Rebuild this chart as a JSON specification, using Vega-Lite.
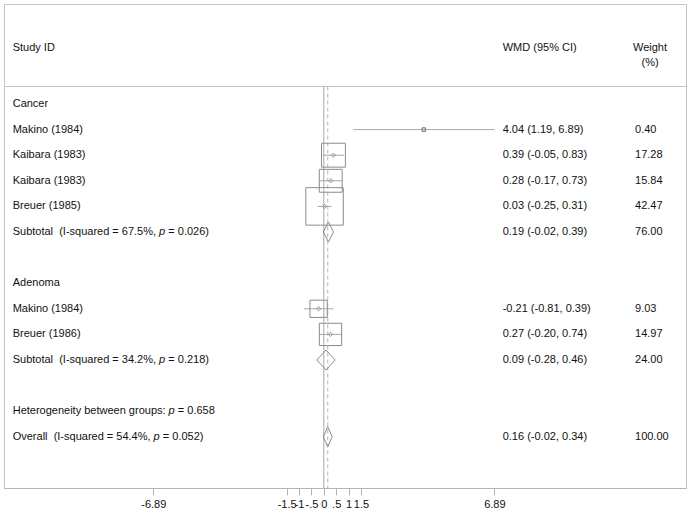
{
  "$schema": "https://vega.github.io/schema/vega-lite/v6.json",
  "width": 682,
  "height": 484,
  "autosize": {"type": "none"},
  "padding": {"left": 4, "top": 4, "right": 4, "bottom": 28},
  "background": "white",
  "config": {
    "view": {"stroke": "#c4c4c4", "strokeWidth": 1},
    "font": "Liberation Sans",
    "text": {"font": "Liberation Sans", "fontSize": 11, "color": "#111111", "baseline": "middle", "align": "left"}
  },
  "datasets": {
    "rows": [
      {"row": 1, "type": "group", "label": "Cancer"},
      {"row": 2, "type": "study", "label": "Makino (1984)", "est": 4.04, "lo": 1.19, "hi": 6.89, "weight": 0.40, "ci": "4.04 (1.19, 6.89)", "wt": "0.40"},
      {"row": 3, "type": "study", "label": "Kaibara (1983)", "est": 0.39, "lo": -0.05, "hi": 0.83, "weight": 17.28, "ci": "0.39 (-0.05, 0.83)", "wt": "17.28"},
      {"row": 4, "type": "study", "label": "Kaibara (1983)", "est": 0.28, "lo": -0.17, "hi": 0.73, "weight": 15.84, "ci": "0.28 (-0.17, 0.73)", "wt": "15.84"},
      {"row": 5, "type": "study", "label": "Breuer (1985)", "est": 0.03, "lo": -0.25, "hi": 0.31, "weight": 42.47, "ci": "0.03 (-0.25, 0.31)", "wt": "42.47"},
      {"row": 6, "type": "subtotal", "pre": "Subtotal\u00a0 (I-squared = 67.5%,", "post": "= 0.026)", "est": 0.19, "lo": -0.02, "hi": 0.39, "ci": "0.19 (-0.02, 0.39)", "wt": "76.00"},
      {"row": 8, "type": "group", "label": "Adenoma"},
      {"row": 9, "type": "study", "label": "Makino (1984)", "est": -0.21, "lo": -0.81, "hi": 0.39, "weight": 9.03, "ci": "-0.21 (-0.81, 0.39)", "wt": "9.03"},
      {"row": 10, "type": "study", "label": "Breuer (1986)", "est": 0.27, "lo": -0.20, "hi": 0.74, "weight": 14.97, "ci": "0.27 (-0.20, 0.74)", "wt": "14.97"},
      {"row": 11, "type": "subtotal", "pre": "Subtotal\u00a0 (I-squared = 34.2%,", "post": "= 0.218)", "est": 0.09, "lo": -0.28, "hi": 0.46, "ci": "0.09 (-0.28, 0.46)", "wt": "24.00"},
      {"row": 13, "type": "het", "pre": "Heterogeneity between groups:", "post": "= 0.658"},
      {"row": 14, "type": "overall", "pre": "Overall\u00a0 (I-squared = 54.4%,", "post": "= 0.052)", "est": 0.16, "lo": -0.02, "hi": 0.34, "ci": "0.16 (-0.02, 0.34)", "wt": "100.00"}
    ]
  },
  "layer": [
    {
      "data": {"values": [{}]},
      "mark": {"type": "rule", "color": "#c4c4c4", "strokeWidth": 1},
      "encoding": {
        "y": {"datum": 0.316, "type": "quantitative", "scale": {"domain": [-2.906, 16.0], "reverse": true, "nice": false, "zero": false}, "axis": null}
      }
    },
    {
      "data": {"values": [{}]},
      "mark": {"type": "rule", "color": "#a8a8a8", "strokeWidth": 1},
      "encoding": {
        "x": {"datum": 0, "type": "quantitative",
          "scale": {"domain": [-12.921, 14.634], "nice": false, "zero": false},
          "axis": {
            "values": [-6.89, -1.5, -1, -0.5, 0, 0.5, 1, 1.5, 6.89],
            "labelExpr": "replace(toString(datum.value), '0.', '.')",
            "labelOverlap": false, "labelFlush": false, "grid": false, "title": null,
            "domainColor": "#b4b4b4", "tickColor": "#b4b4b4", "tickSize": 7,
            "labelFontSize": 11, "labelColor": "#111111", "labelFont": "Liberation Sans", "labelPadding": 3
          }},
        "y": {"datum": 0.316, "type": "quantitative"},
        "y2": {"datum": 16.0}
      }
    },
    {
      "data": {"values": [{}]},
      "mark": {"type": "rule", "color": "#b4b4b4", "strokeWidth": 1, "strokeDash": [4, 3]},
      "encoding": {
        "x": {"datum": 0.16, "type": "quantitative"},
        "y": {"datum": 0.316, "type": "quantitative"},
        "y2": {"datum": 16.0}
      }
    },
    {
      "data": {"name": "rows"},
      "transform": [{"filter": "datum.type === 'study'"}],
      "mark": {"type": "rule", "color": "#a8a8a8", "strokeWidth": 1},
      "encoding": {
        "x": {"field": "lo", "type": "quantitative"},
        "x2": {"field": "hi"},
        "y": {"field": "row", "type": "quantitative"}
      }
    },
    {
      "data": {"name": "rows"},
      "transform": [{"filter": "datum.type === 'study'"}],
      "mark": {"type": "point", "shape": "square", "filled": false, "stroke": "#8c8c8c", "strokeWidth": 1, "opacity": 1},
      "encoding": {
        "x": {"field": "est", "type": "quantitative"},
        "y": {"field": "row", "type": "quantitative"},
        "size": {"field": "weight", "type": "quantitative", "scale": {"domain": [0, 42.47], "range": [0, 1406], "zero": true}, "legend": null}
      }
    },
    {
      "data": {"name": "rows"},
      "transform": [{"filter": "datum.type === 'study'"}],
      "mark": {"type": "point", "shape": "diamond", "filled": false, "stroke": "#808080", "strokeWidth": 0.8, "size": 18, "opacity": 1},
      "encoding": {
        "x": {"field": "est", "type": "quantitative"},
        "y": {"field": "row", "type": "quantitative"}
      }
    },
    {
      "data": {"name": "rows"},
      "transform": [{"filter": "datum.type === 'subtotal' || datum.type === 'overall'"}],
      "mark": {"type": "rule", "color": "#8c8c8c", "strokeWidth": 1, "yOffset": 0, "y2Offset": -10},
      "encoding": {
        "x": {"field": "lo", "type": "quantitative"},
        "x2": {"field": "est"},
        "y": {"field": "row", "type": "quantitative"},
        "y2": {"field": "row"}
      }
    },
    {
      "data": {"name": "rows"},
      "transform": [{"filter": "datum.type === 'subtotal' || datum.type === 'overall'"}],
      "mark": {"type": "rule", "color": "#8c8c8c", "strokeWidth": 1, "yOffset": 0, "y2Offset": 10},
      "encoding": {
        "x": {"field": "lo", "type": "quantitative"},
        "x2": {"field": "est"},
        "y": {"field": "row", "type": "quantitative"},
        "y2": {"field": "row"}
      }
    },
    {
      "data": {"name": "rows"},
      "transform": [{"filter": "datum.type === 'subtotal' || datum.type === 'overall'"}],
      "mark": {"type": "rule", "color": "#8c8c8c", "strokeWidth": 1, "yOffset": -10, "y2Offset": 0},
      "encoding": {
        "x": {"field": "est", "type": "quantitative"},
        "x2": {"field": "hi"},
        "y": {"field": "row", "type": "quantitative"},
        "y2": {"field": "row"}
      }
    },
    {
      "data": {"name": "rows"},
      "transform": [{"filter": "datum.type === 'subtotal' || datum.type === 'overall'"}],
      "mark": {"type": "rule", "color": "#8c8c8c", "strokeWidth": 1, "yOffset": 10, "y2Offset": 0},
      "encoding": {
        "x": {"field": "est", "type": "quantitative"},
        "x2": {"field": "hi"},
        "y": {"field": "row", "type": "quantitative"},
        "y2": {"field": "row"}
      }
    },
    {
      "data": {"name": "rows"},
      "transform": [{"filter": "datum.label != null"}],
      "mark": {"type": "text"},
      "encoding": {
        "x": {"datum": -12.57, "type": "quantitative"},
        "y": {"field": "row", "type": "quantitative"},
        "text": {"field": "label"}
      }
    },
    {
      "data": {"name": "rows"},
      "transform": [{"filter": "datum.pre != null"}],
      "mark": {"type": "text"},
      "encoding": {
        "x": {"datum": -12.57, "type": "quantitative"},
        "y": {"field": "row", "type": "quantitative"},
        "text": {"field": "pre"}
      }
    },
    {
      "data": {"name": "rows"},
      "transform": [{"filter": "datum.type === 'subtotal'"}],
      "mark": {"type": "text", "fontStyle": "italic", "dx": 146.4},
      "encoding": {
        "x": {"datum": -12.57, "type": "quantitative"},
        "y": {"field": "row", "type": "quantitative"},
        "text": {"value": "p"}
      }
    },
    {
      "data": {"name": "rows"},
      "transform": [{"filter": "datum.type === 'subtotal'"}],
      "mark": {"type": "text", "dx": 155.6},
      "encoding": {
        "x": {"datum": -12.57, "type": "quantitative"},
        "y": {"field": "row", "type": "quantitative"},
        "text": {"field": "post"}
      }
    },
    {
      "data": {"name": "rows"},
      "transform": [{"filter": "datum.type === 'overall'"}],
      "mark": {"type": "text", "fontStyle": "italic", "dx": 140.9},
      "encoding": {
        "x": {"datum": -12.57, "type": "quantitative"},
        "y": {"field": "row", "type": "quantitative"},
        "text": {"value": "p"}
      }
    },
    {
      "data": {"name": "rows"},
      "transform": [{"filter": "datum.type === 'overall'"}],
      "mark": {"type": "text", "dx": 150.1},
      "encoding": {
        "x": {"datum": -12.57, "type": "quantitative"},
        "y": {"field": "row", "type": "quantitative"},
        "text": {"field": "post"}
      }
    },
    {
      "data": {"name": "rows"},
      "transform": [{"filter": "datum.type === 'het'"}],
      "mark": {"type": "text", "fontStyle": "italic", "dx": 155.9},
      "encoding": {
        "x": {"datum": -12.57, "type": "quantitative"},
        "y": {"field": "row", "type": "quantitative"},
        "text": {"value": "p"}
      }
    },
    {
      "data": {"name": "rows"},
      "transform": [{"filter": "datum.type === 'het'"}],
      "mark": {"type": "text", "dx": 165.1},
      "encoding": {
        "x": {"datum": -12.57, "type": "quantitative"},
        "y": {"field": "row", "type": "quantitative"},
        "text": {"field": "post"}
      }
    },
    {
      "data": {"name": "rows"},
      "transform": [{"filter": "datum.ci != null"}],
      "mark": {"type": "text"},
      "encoding": {
        "x": {"datum": 7.228, "type": "quantitative"},
        "y": {"field": "row", "type": "quantitative"},
        "text": {"field": "ci"}
      }
    },
    {
      "data": {"name": "rows"},
      "transform": [{"filter": "datum.wt != null"}],
      "mark": {"type": "text"},
      "encoding": {
        "x": {"datum": 12.574, "type": "quantitative"},
        "y": {"field": "row", "type": "quantitative"},
        "text": {"field": "wt"}
      }
    },
    {
      "data": {"values": [{"col": "study", "text": "Study ID"}]},
      "mark": {"type": "text"},
      "encoding": {
        "x": {"datum": -12.57, "type": "quantitative"},
        "y": {"datum": -1.17, "type": "quantitative"},
        "text": {"field": "text"}
      }
    },
    {
      "data": {"values": [{"col": "wmd", "text": "WMD (95% CI)"}]},
      "mark": {"type": "text"},
      "encoding": {
        "x": {"datum": 7.228, "type": "quantitative"},
        "y": {"datum": -1.17, "type": "quantitative"},
        "text": {"field": "text"}
      }
    },
    {
      "data": {"values": [{"col": "weight", "text": "Weight"}]},
      "mark": {"type": "text", "align": "center"},
      "encoding": {
        "x": {"datum": 13.18, "type": "quantitative"},
        "y": {"datum": -1.17, "type": "quantitative"},
        "text": {"field": "text"}
      }
    },
    {
      "data": {"values": [{"col": "weight", "text": "(%)"}]},
      "mark": {"type": "text", "align": "center"},
      "encoding": {
        "x": {"datum": 13.18, "type": "quantitative"},
        "y": {"datum": -0.59, "type": "quantitative"},
        "text": {"field": "text"}
      }
    }
  ]
}
